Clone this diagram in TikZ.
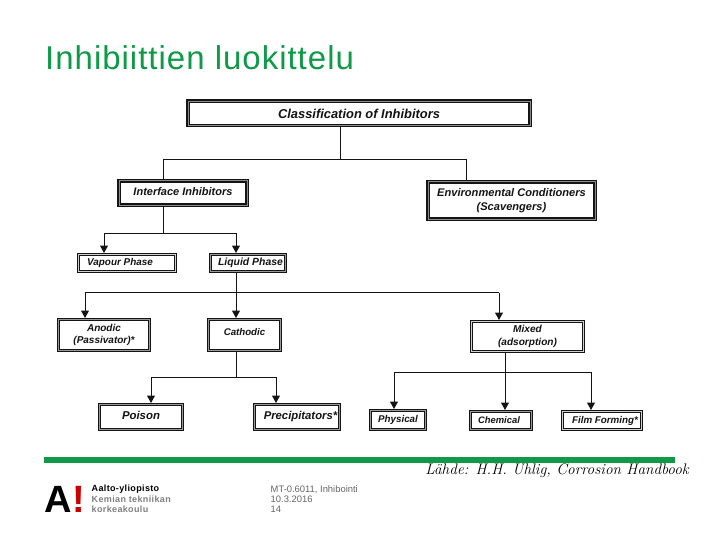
\documentclass[tikz,border=0pt]{standalone}
\usepackage{fontspec}
\setmainfont{Liberation Sans}
\newfontfamily\titlefont[LetterSpace=3]{Liberation Sans}
\newfontfamily\logofont[LetterSpace=4,BoldFont={Liberation Sans Bold}]{Liberation Sans}
\newfontfamily\serifit{Latin Modern Roman}
\usetikzlibrary{arrows.meta}
\definecolor{aaltogreen}{HTML}{0F9A48}
\definecolor{ink}{HTML}{141414}
\tikzset{
  x=1pt,y=-1pt,
  framebase/.style={fill=white,inner sep=0pt,align=center,text=ink,font=\bfseries\itshape},
  heavybox/.style 2 args={framebase,draw=ink,line width=1.5pt,double=black!45,double distance=.7pt,minimum width=#1*1pt-3.7pt,minimum height=#2*1pt-3.7pt,outer sep=1.85pt},
  midbox/.style 2 args={framebase,draw=ink,line width=1.1pt,double=black!40,double distance=.9pt,minimum width=#1*1pt-3.1pt,minimum height=#2*1pt-3.1pt,outer sep=1.55pt},
  lightbox/.style 2 args={framebase,draw=ink,line width=1pt,double=black!18,double distance=.9pt,minimum width=#1*1pt-2.9pt,minimum height=#2*1pt-2.9pt,outer sep=1.45pt},
  wire/.style={draw=ink,line width=1pt},
  arrowwire/.style={wire,-{Triangle[length=7.5pt,width=8pt]}},
}
\newcommand{\lab}[3]{\fontsize{#1}{#2}\selectfont #3}
\begin{document}
\begin{tikzpicture}
\useasboundingbox (0,0) rectangle (720,540);
\fill[white] (0,0) rectangle (720,540);

\node[anchor=base west,text=aaltogreen,inner sep=0pt] (title) at (45,70) {\titlefont\fontsize{33}{37}\selectfont Inhibiittien luokittelu};

% boxes
\node[heavybox={346}{28}] (cls) at (359,113.5) {\lab{12.9}{14}{Classification of Inhibitors}};
\node[heavybox={132}{28}] (int) at (183,193) {\raisebox{2pt}{\lab{11}{13}{Interface Inhibitors}}};
\node[heavybox={171}{41}] (env) at (511.5,200.5) {\raisebox{2pt}{\parbox{165pt}{\centering\lab{11.1}{13.6}{Environmental Conditioners\\(Scavengers)}}}};
\node[lightbox={100}{20}] (vap) at (127,263) {\hspace*{-14pt}\lab{9.9}{12}{Vapour Phase}};
\node[midbox={78}{20}] (liq) at (248,263) {\hspace*{5pt}\lab{10.4}{12}{Liquid Phase}};
\node[midbox={94}{34}] (ano) at (104,335) {\parbox{90pt}{\centering\lab{10}{12.6}{Anodic\\(Passivator)*}}};
\node[midbox={75}{34}] (cat) at (244.5,335) {\raisebox{7pt}{\lab{9.7}{12}{Cathodic}}};
\node[lightbox={115}{33}] (mix) at (527.5,336.5) {\parbox{110pt}{\centering\lab{10.1}{12.6}{Mixed\\(adsorption)}}};
\node[midbox={86}{28}] (poi) at (141,417) {\raisebox{3pt}{\lab{11.4}{13}{Poison}}};
\node[midbox={88}{28}] (pre) at (297,417) {\raisebox{3pt}{\hspace*{7pt}\lab{11.3}{13}{Precipitators*}}};
\node[midbox={58}{22}] (phy) at (398,420) {\lab{9.8}{12}{Physical}};
\node[midbox={64}{21}] (che) at (501,420.5) {\hspace*{-4pt}\lab{9.4}{12}{Chemical}};
\node[lightbox={82}{21}] (fil) at (602,420.5) {\hspace*{6pt}\lab{9.8}{12}{Film Forming*}};

% junctions
\coordinate (busAl) at (163,160);
\coordinate (busAm) at (340,160);
\coordinate (busAr) at (466,160);
\coordinate (busBl) at (104,233);
\coordinate (busBm) at (163,233);
\coordinate (busBr) at (236,233);
\coordinate (busCl) at (85,292.5);
\coordinate (busCm) at (236,292.5);
\coordinate (busCr) at (499,292.5);
\coordinate (busDl) at (151,377);
\coordinate (busDm) at (236,377);
\coordinate (busDr) at (276,377);
\coordinate (busEl) at (394,372);
\coordinate (busEm) at (505,372);
\coordinate (busEr) at (591,372);

% connectors
\draw[wire] (cls.south -| busAm) -- (busAm);
\draw[wire] (int.north -| busAl) |- (busAr) -- (env.north -| busAr);
\draw[wire] (int.south -| busBm) -- (busBm);
\draw[wire] (busBl) -- (busBr);
\draw[arrowwire] (busBl) -- (vap.north -| busBl);
\draw[arrowwire] (busBr) -- (liq.north -| busBr);
\draw[arrowwire] (liq.south -| busCm) -- (cat.north -| busCm);
\draw[wire] (busCl) -- (busCr);
\draw[arrowwire] (busCl) -- (ano.north -| busCl);
\draw[arrowwire] (busCr) -- (mix.north -| busCr);
\draw[wire] (cat.south -| busDm) -- (busDm);
\draw[wire] (busDl) -- (busDr);
\draw[arrowwire] (busDl) -- (poi.north -| busDl);
\draw[arrowwire] (busDr) -- (pre.north -| busDr);
\draw[wire] (mix.south -| busEm) -- (busEm);
\draw[wire] (busEl) -- (busEr);
\draw[arrowwire] (busEl) -- (phy.north -| busEl);
\draw[arrowwire] (busEm) -- (che.north -| busEm);
\draw[arrowwire] (busEr) -- (fil.north -| busEr);

% footer
\fill[aaltogreen] (44,457) rectangle (675,463);
\node[anchor=east,inner sep=0pt,font=\serifit\itshape\fontsize{15.3}{17}\selectfont] (src) at (689,471) {Lähde: H.H. Uhlig, Corrosion Handbook};
\node[anchor=base west,inner sep=0pt,font=\bfseries\fontsize{38}{38}\selectfont] (lga) at (44.5,512) {A};
\node[anchor=base west,inner sep=0pt,font=\bfseries\fontsize{38}{38}\selectfont,text=red!80!black] (lgb) at (72,512) {!};
\node[anchor=west,inner sep=0pt,align=left,text=black,font=\logofont\bfseries\fontsize{9}{10.5}\selectfont] (org) at (91.5,489) {Aalto-yliopisto};
\node[anchor=west,inner sep=0pt,align=left,text=black!50,font=\logofont\bfseries\fontsize{9}{10.5}\selectfont] (sch) at (91.5,504.5) {Kemian tekniikan\\korkeakoulu};
\node[anchor=west,inner sep=0pt,align=left,text=black!60,font=\fontsize{9.4}{10}\selectfont] (info) at (270.5,499) {MT-0.6011, Inhibointi\\10.3.2016\\14};
\end{tikzpicture}
\end{document}
